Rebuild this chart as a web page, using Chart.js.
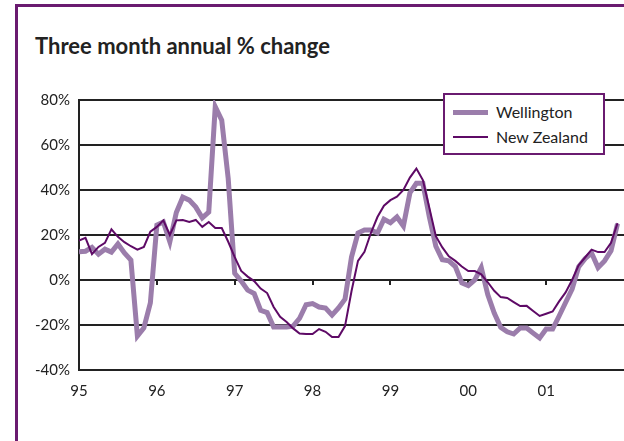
<!DOCTYPE html>
<html>
<head>
<meta charset="utf-8">
<script src="https://cdn.jsdelivr.net/npm/chart.js@4.4.1/dist/chart.umd.min.js"></script>
<style>
  html, body { margin: 0; padding: 0; background: #fff; }
  #wrap { position: relative; width: 624px; height: 441px; overflow: hidden; }
  #frame { position: absolute; left: 15px; top: 4px; width: 700px; height: 500px; border: 3px solid #6a1b70; box-sizing: border-box; }
  #title { position: absolute; left: 35px; top: 32px; font: bold 22px Lato, sans-serif; color: #222; white-space: nowrap; }
  #chart { position: absolute; left: 0; top: 0; }
  #legend { position: absolute; left: 443px; top: 93px; width: 162px; height: 62px; box-sizing: border-box;
            border: 2px solid #6a1b70; background: #fff; font: 16px Lato, sans-serif; color: #222; }
  .row { position: absolute; left: 8px; height: 20px; }
  .sw { position: absolute; left: 0; width: 35px; }
  .txt { position: absolute; left: 43px; top: 0; line-height: 20px; white-space: nowrap; }
</style>
</head>
<body>
<div id="wrap">
  <div id="frame"></div>
  <div id="title">Three month annual % change</div>
  <canvas id="chart" width="624" height="441"></canvas>
  <div id="legend"></div>
</div>
<script>
// year tick labels, one per 12 months
const yearLabels = ['95', '96', '97', '98', '99', '00', '01'];
const yTicks = [-40, -20, 0, 20, 40, 60, 80];

// monthly three month annual % change, starting Jan 95
const wellington = [
  12.5, 12.8, 14.5, 11.5, 13.7, 12.4, 16, 12, 8.9, -24.9, -21.3, -10.2,
  24.4, 25.8, 17, 30, 36.8, 35.5, 32.4, 27.6, 30.2, 77, 71, 45,
  3, -0.5, -4.5, -6, -13.5, -14.5, -20.9, -20.9, -20.9, -20.5, -17, -11,
  -10.5, -12, -12.5, -15.6, -12.4, -8.5, 10.2, 20.9, 22.2, 22.2, 20.9, 27,
  25.5, 28, 24, 38.7, 43, 43, 28, 15, 9, 8.5, 6, -1.3,
  -2.5, 0, 5.5, -6.5, -14.7, -21, -23, -24, -21.3, -21.3, -23.6, -25.8,
  -21.8, -21.8, -16, -10, -4, 5.8, 9.5, 12, 5.5, 8.5, 13, 25
];
const newZealand = [
  17.5, 18.7, 11.5, 14.7, 16.5, 22.5, 19.2, 16.8, 15, 13.5, 14.7, 21.5,
  23.6, 26.5, 20, 26.5, 26.7, 25.8, 26.7, 23.6, 25.8, 23.1, 23.1, 17,
  10.2, 4, 1.5, -0.5, -3.8, -5.8, -12, -16.4, -18.7, -21.5, -23.8, -24,
  -24, -21.8, -23, -25.3, -25.3, -20.5, -5, 8.5, 12.5, 21, 28, 33,
  35.5, 37, 40, 45.5, 49.5, 44.4, 32, 19.5, 14.5, 10.5, 8.5, 6,
  4, 4, 2.5, -1, -4.8, -7.6, -8, -9.8, -11.6, -11.5, -13.8, -16,
  -15, -14, -9.5, -5.5, 0, 6.5, 10, 13.5, 12.4, 12.4, 16.5, 25.3
];

const wellColor = '#9b7dab';
const nzColor = '#5e0a66';

// legend box
const legendItems = [
  { label: 'Wellington', color: wellColor, width: 5 },
  { label: 'New Zealand', color: nzColor, width: 2 }
];
const legendEl = document.getElementById('legend');
legendItems.forEach((item, i) => {
  const row = document.createElement('div');
  row.className = 'row';
  row.style.top = (7 + i * 25) + 'px';
  row.innerHTML = '<div class="sw" style="top:' + (10 - item.width / 2) + 'px;height:' + item.width +
    'px;background:' + item.color + '"></div><div class="txt">' + item.label + '</div>';
  legendEl.appendChild(row);
});

// little tick marks on the 0% line at each year
const zeroTicks = {
  id: 'zeroTicks',
  beforeDatasetsDraw(chart) {
    const x = chart.scales.x, y = chart.scales.y;
    const ctx = chart.ctx;
    const y0 = y.getPixelForValue(0);
    ctx.save();
    ctx.strokeStyle = '#222';
    ctx.lineWidth = 2;
    for (let k = 1; k < yearLabels.length; k++) {
      const px = Math.round(x.getPixelForValue(k * 12));
      ctx.beginPath();
      ctx.moveTo(px, y0);
      ctx.lineTo(px, y0 + 5);
      ctx.stroke();
    }
    ctx.restore();
  }
};

const ctx = document.getElementById('chart').getContext('2d');
new Chart(ctx, {
  type: 'line',
  data: {
    datasets: [
      {
        label: 'New Zealand',
        data: newZealand.map((v, i) => ({ x: i, y: v })),
        borderColor: nzColor,
        borderWidth: 2,
        pointRadius: 0,
        tension: 0,
        order: 0
      },
      {
        label: 'Wellington',
        data: wellington.map((v, i) => ({ x: i, y: v })),
        borderColor: wellColor,
        borderWidth: 5,
        pointRadius: 0,
        tension: 0,
        order: 1
      }
    ]
  },
  options: {
    responsive: false,
    animation: false,
    layout: { padding: { left: 0, right: 0, top: 100, bottom: 0 } },
    plugins: {
      legend: { display: false },
      tooltip: { enabled: false }
    },
    scales: {
      x: {
        type: 'linear',
        min: 0,
        max: 84,
        grid: { display: false, drawTicks: false },
        border: { display: false },
        afterBuildTicks: (scale) => {
          scale.ticks = yearLabels.map((l, i) => ({ value: i * 12 }));
        },
        afterFit: (scale) => { scale.height = 71; },
        ticks: {
          padding: 12,
          maxRotation: 0,
          autoSkip: false,
          color: '#222',
          font: { family: 'Lato', size: 15 },
          callback: (v) => yearLabels[Math.round(v / 12)] || ''
        }
      },
      y: {
        min: -40,
        max: 80,
        afterBuildTicks: (scale) => {
          scale.ticks = yTicks.map(v => ({ value: v }));
        },
        afterFit: (scale) => { scale.width = 79; },
        grid: { color: '#222', lineWidth: 2, drawTicks: false },
        border: { display: true, color: '#222', width: 2 },
        ticks: {
          padding: 9,
          color: '#222',
          font: { family: 'Lato', size: 15 },
          callback: (v) => v + '%'
        }
      }
    }
  },
  plugins: [zeroTicks]
});
</script>
</body>
</html>
